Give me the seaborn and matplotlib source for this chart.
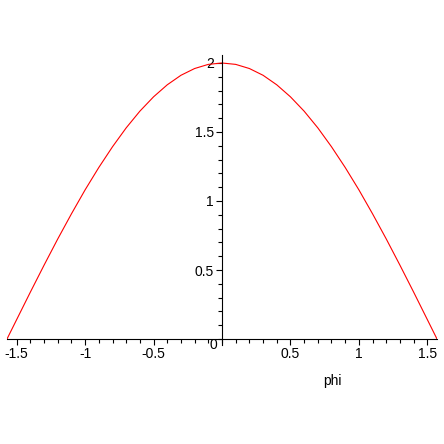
import matplotlib
matplotlib.use("Agg")
import matplotlib.pyplot as plt
import seaborn as sns
import pandas as pd
import numpy as np
from matplotlib.ticker import MultipleLocator, FixedLocator

sns.set_style("white")
plt.rcParams['font.family'] = ['Liberation Sans', 'DejaVu Sans']

phi = [-1.5708, -1.5, -1.4, -1.3, -1.2, -1.1, -1.0, -0.9, -0.8, -0.7, -0.6, -0.5,
       -0.4, -0.3, -0.2, -0.1, 0.0, 0.1, 0.2, 0.3, 0.4, 0.5, 0.6, 0.7, 0.8, 0.9,
       1.0, 1.1, 1.2, 1.3, 1.4, 1.5, 1.5708]
value = [0.0, 0.141, 0.340, 0.535, 0.725, 0.907, 1.081, 1.243, 1.393, 1.530, 1.651, 1.755,
         1.842, 1.911, 1.960, 1.990, 2.0, 1.990, 1.960, 1.911, 1.842, 1.755, 1.651, 1.530,
         1.393, 1.243, 1.081, 0.907, 0.725, 0.535, 0.340, 0.141, 0.0]
x_ticks = [-1.5, -1, -0.5, 0.5, 1, 1.5]
x_labels = ["-1.5", "-1", "-0.5", "0.5", "1", "1.5"]
y_ticks = [0.5, 1, 1.5, 2]
y_labels = ["0.5", "1", "1.5", "2"]
xlabel = "phi"

df = pd.DataFrame({"phi": phi, "value": value})

W = H = 444
fig = plt.figure(figsize=(4.44, 4.44), dpi=100)
# pixel geometry
x0, x1 = 7, 437          # -1.5708 .. 1.5708
ppu_y = 138.0
y_zero = 339
ylo, yhi = -0.04, 2.06
top_px = y_zero - yhi * ppu_y
bot_px = y_zero - ylo * ppu_y
ax = fig.add_axes([x0 / W, 1 - bot_px / H, (x1 - x0) / W, (bot_px - top_px) / H])

sns.lineplot(data=df, x="phi", y="value", ax=ax, color="#ff0000", linewidth=0.8)

ax.set_xlim(-1.5708, 1.5708)
ax.set_ylim(ylo, yhi)
for s in ["top", "right"]:
    ax.spines[s].set_visible(False)
ax.spines["left"].set_position(("data", 0))
ax.spines["bottom"].set_position(("data", 0))
for s in ["left", "bottom"]:
    ax.spines[s].set_color("black")
    ax.spines[s].set_linewidth(0.8)

ax.xaxis.set_major_locator(FixedLocator(x_ticks))
ax.set_xticklabels(x_labels)
ax.xaxis.set_minor_locator(MultipleLocator(0.1))
ax.yaxis.set_major_locator(FixedLocator(y_ticks))
ax.set_yticklabels(y_labels)
ax.yaxis.set_minor_locator(MultipleLocator(0.1))

ax.tick_params(axis="x", which="both", direction="out", bottom=True, color="black",
               labelcolor="black", labelsize=10, pad=2)
ax.tick_params(axis="y", which="both", direction="out", left=True, color="black",
               labelcolor="black", labelsize=10, pad=2)
ax.tick_params(which="major", length=4, width=0.8)
ax.tick_params(which="minor", length=3, width=0.8)
ax.set_xlabel("")
ax.set_ylabel("")

fig.text(213 / W, 1 - 345 / H, "0", ha="center", va="center", fontsize=10, color="black")
fig.text(332 / W, 1 - 381 / H, xlabel, ha="center", va="center", fontsize=10, color="black")

fig.savefig("out.png", dpi=100)
